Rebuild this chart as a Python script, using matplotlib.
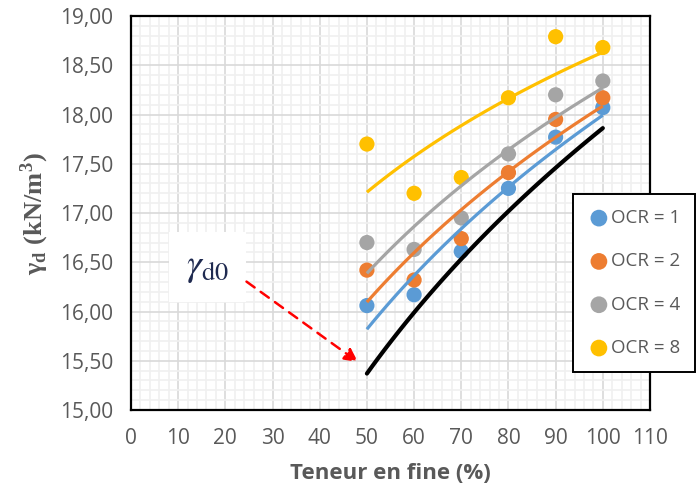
import numpy as np
import matplotlib
matplotlib.use("Agg")
import matplotlib.pyplot as plt
from matplotlib.ticker import MultipleLocator, FuncFormatter

# Data
fines = [50, 60, 70, 80, 90, 100]
ocr_labels = ["OCR = 1", "OCR = 2", "OCR = 4", "OCR = 8"]
ocr1 = [16.06, 16.17, 16.61, 17.25, 17.77, 18.07]
ocr2 = [16.42, 16.32, 16.74, 17.41, 17.95, 18.17]
ocr4 = [16.70, 16.63, 16.95, 17.60, 18.20, 18.34]
ocr8 = [17.70, 17.20, 17.36, 18.17, 18.79, 18.68]
gamma_d0 = [15.37, 15.99, 16.53, 17.02, 17.46, 17.86]

colors = ["#5B9BD5", "#ED7D31", "#A5A5A5", "#FFC000"]
series = [ocr1, ocr2, ocr4, ocr8]

grey_txt = "#595959"
plt.rcParams["mathtext.fontset"] = "stix"

fig = plt.figure(figsize=(6.99, 4.94), dpi=100)
ax = fig.add_axes([131/699, 84/494, (650-131)/699, (410-16)/494])


def power_fit(x, y):
    b, lna = np.polyfit(np.log(x), np.log(y), 1)
    xs = np.linspace(min(x), max(x), 100)
    return xs, np.exp(lna) * xs ** b


handles = []
for s, c, lab in zip(series, colors, ocr_labels):
    h = ax.scatter(fines, s, s=120, color=c, zorder=3, label=lab, edgecolors="none")
    handles.append(h)
for s, c in zip(series, colors):
    xs, ys = power_fit(fines, s)
    ax.plot(xs, ys, color=c, lw=2.3, zorder=4, solid_capstyle="butt")
xs, ys = power_fit(fines, gamma_d0)
ax.plot(xs, ys, color="black", lw=3, zorder=4, solid_capstyle="round")

ax.set_xlim(0, 110)
ax.set_ylim(15, 19)
ax.xaxis.set_major_locator(MultipleLocator(10))
ax.xaxis.set_minor_locator(MultipleLocator(2))
ax.yaxis.set_major_locator(MultipleLocator(0.5))
ax.yaxis.set_minor_locator(MultipleLocator(0.1))
ax.yaxis.set_major_formatter(FuncFormatter(lambda v, p: f"{v:.2f}".replace(".", ",")))
ax.grid(which="major", color="#D9D9D9", lw=1.2, zorder=0)
ax.grid(which="minor", color="#F0F0F0", lw=1.2, zorder=0)
ax.set_axisbelow(True)
ax.tick_params(which="both", length=0, labelsize=15, labelcolor=grey_txt)
ax.tick_params(axis="x", pad=13)
ax.tick_params(axis="y", pad=13)
for lab in ax.get_xticklabels() + ax.get_yticklabels():
    lab.set_fontfamily("Open Sans")
for sp in ax.spines.values():
    sp.set_color("black")
    sp.set_linewidth(1.6)

ax.set_xlabel("Teneur en fine (%)", fontsize=16, fontweight="bold", color=grey_txt,
              family="Open Sans", labelpad=10)
ax.set_ylabel(r"γ$_\mathregular{d}$ (kN/m$^\mathregular{3}$)", fontsize=19, fontweight="bold",
              color=grey_txt, family="Liberation Serif", labelpad=6)

# annotation
ax.text(16.2, 16.45, r"$\gamma_{\mathrm{d0}}$", fontsize=27, color="#1F2A50",
        ha="center", va="center", zorder=5,
        bbox=dict(boxstyle="square,pad=0.45", fc="white", ec="none"))
ax.annotate("", xy=(48.6, 15.47), xytext=(24.0, 16.32),
            arrowprops=dict(arrowstyle="-|>,head_length=0.8,head_width=0.4", color="red",
                            lw=1.8, linestyle=(0, (4, 3))), zorder=5)

leg = fig.legend(handles=handles, loc="center",
                 bbox_to_anchor=((574 + 694) / 2 / 699, 1 - (193 + 373) / 2 / 494),
                 frameon=True, fancybox=False, edgecolor="black", framealpha=1,
                 prop={"family": "Open Sans", "size": 13.5}, labelspacing=1.35,
                 handletextpad=0.05, borderpad=0.8, borderaxespad=0,
                 handlelength=1.2, markerscale=1.1)
leg.get_frame().set_linewidth(1.4)
for t in leg.get_texts():
    t.set_color(grey_txt)

fig.savefig("out.png", dpi=100)
